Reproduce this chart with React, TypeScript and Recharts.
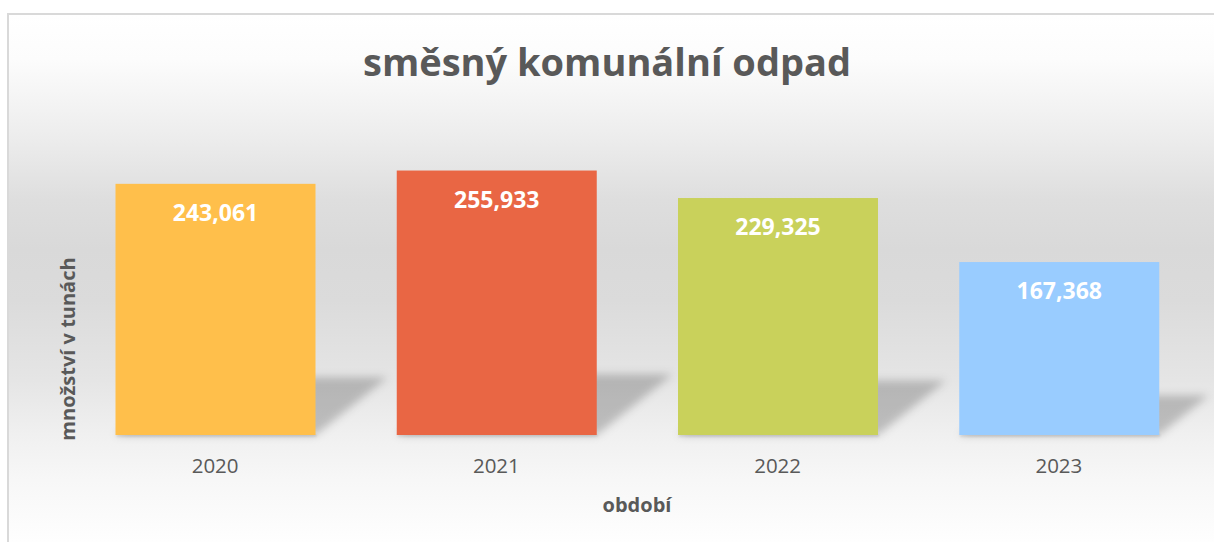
import React from "react";
import { BarChart, Bar, XAxis, YAxis, Cell, LabelList, Label } from "recharts";

const categories = ["2020", "2021", "2022", "2023"];
const values = [243.061, 255.933, 229.325, 167.368];
const colors = ["#FFBF4B", "#E96644", "#C9D15B", "#99CCFF"];
const titleText = "směsný komunální odpad";
const xAxisTitle = "období";
const yAxisTitle = "množství v tunách";

const data = categories.map((c, i) => ({ year: c, value: values[i] }));

const FONT = "'Open Sans', 'Noto Sans', sans-serif";
const TEXT_COLOR = "#595959";

const fmt = (v: number) => v.toFixed(3).replace(".", ",");

const ShadowBar = (props: any) => {
  const { x, y, width, height, fill, index } = props;
  const base = y + height;
  const sh = height * 0.23;
  const dx = sh * 1.25;
  const id = `blur-${index}`;
  const pts = `${x},${base} ${x + width},${base} ${x + width + dx},${base - sh} ${x + dx},${base - sh}`;
  return (
    <g>
      <defs>
        <filter id={id} x="-50%" y="-50%" width="200%" height="200%">
          <feGaussianBlur stdDeviation="4" />
        </filter>
        <filter id={`${id}-b`} x="-10%" y="-200%" width="120%" height="500%">
          <feGaussianBlur stdDeviation="1.2" />
        </filter>
      </defs>
      <polygon points={pts} fill="#000" fillOpacity={0.21} filter={`url(#${id})`} />
      <rect x={x + 1} y={base - 1} width={width} height={3} fill="#000" fillOpacity={0.1} filter={`url(#${id}-b)`} />
      <rect x={x} y={y} width={width} height={height} fill={fill} />
    </g>
  );
};

const ValueLabel = (props: any) => {
  const { x, y, width, value } = props;
  return (
    <text
      x={x + width / 2}
      y={y + 37}
      textAnchor="middle"
      fill="#ffffff"
      fontFamily={FONT}
      fontWeight={700}
      fontSize={23}
    >
      {fmt(value)}
    </text>
  );
};

const XTick = (props: any) => {
  const { x, y, payload } = props;
  return (
    <text x={x} y={y} dy={38} textAnchor="middle" fill={TEXT_COLOR} fontFamily={FONT} fontSize={20.5}>
      {payload.value}
    </text>
  );
};

export default function App() {
  return (
    <div style={{ position: "absolute", left: 0, top: 0, width: 1214, height: 542, overflow: "hidden", background: "#fff" }}>
      <div
        style={{
          position: "absolute",
          left: 7,
          top: 13,
          width: 1300,
          height: 600,
          boxSizing: "border-box",
          border: "2px solid #d9d9d9",
          background:
            "linear-gradient(to bottom, #ffffff 0px, #fcfcfc 45px, #ececec 125px, #dedede 185px, #d9d9d9 235px, #dbdbdb 285px, #e5e5e5 365px, #f0f0f0 420px, #f7f7f7 465px, #fefefe 527px, #ffffff 600px)",
        }}
      />
      <svg width={1214} height={542} style={{ position: "absolute", left: 0, top: 0 }}>
        <text x={607} y={76} textAnchor="middle" fill={TEXT_COLOR} fontFamily={FONT} fontWeight={700} fontSize={38}>
          {titleText}
        </text>
      </svg>
      <div style={{ position: "absolute", left: 0, top: 0 }}>
        <BarChart
          width={1214}
          height={542}
          data={data}
          margin={{ top: 125, right: 14.5, bottom: 30, left: 14.5 }}
        >
          <XAxis
            dataKey="year"
            axisLine={false}
            tickLine={false}
            tickSize={0}
            tickMargin={0}
            height={77}
            tick={<XTick />}
            interval={0}
          >
            <Label
              content={(p: any) => {
                const vb = p.viewBox || { x: 0, y: 0, width: 0, height: 0 };
                return (
                  <text
                    x={vb.x + vb.width / 2}
                    y={vb.y + 77}
                    textAnchor="middle"
                    fill={TEXT_COLOR}
                    fontFamily={FONT}
                    fontWeight={700}
                    fontSize={20}
                  >
                    {xAxisTitle}
                  </text>
                );
              }}
            />
          </XAxis>
          <YAxis domain={[0, 300]} width={60} tick={false} axisLine={false} tickLine={false}>
            <Label
              content={(p: any) => {
                const vb = p.viewBox || { x: 0, y: 0, width: 0, height: 0 };
                const cx = vb.x + 52.5;
                const cy = vb.y + vb.height / 2 + 69;
                return (
                  <text
                    x={cx}
                    y={cy}
                    transform={`rotate(-90 ${cx} ${cy})`}
                    textAnchor="middle"
                    dominantBaseline="central"
                    fill={TEXT_COLOR}
                    fontFamily={FONT}
                    fontWeight={700}
                    fontSize={20}
                  >
                    {yAxisTitle}
                  </text>
                );
              }}
            />
          </YAxis>
          <Bar dataKey="value" barSize={200} isAnimationActive={false} shape={<ShadowBar />}>
            {data.map((d, i) => (
              <Cell key={d.year} fill={colors[i]} />
            ))}
            <LabelList dataKey="value" content={<ValueLabel />} />
          </Bar>
        </BarChart>
      </div>
    </div>
  );
}
